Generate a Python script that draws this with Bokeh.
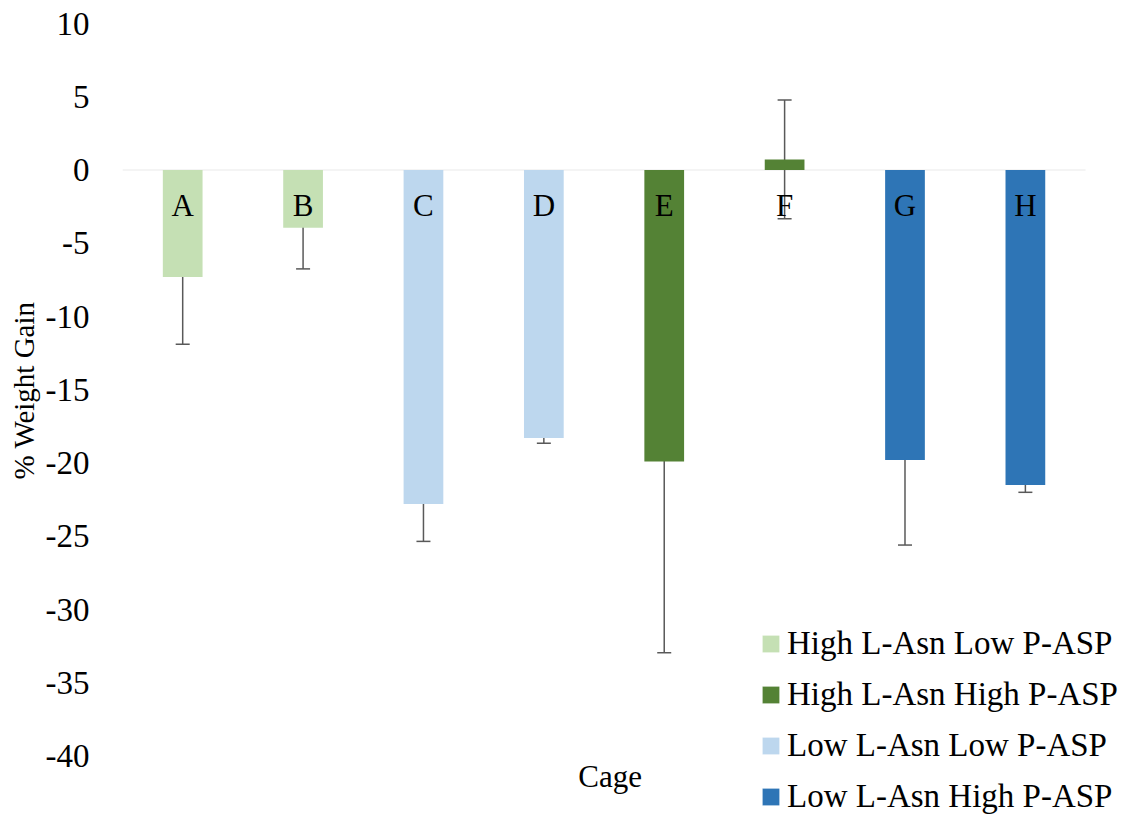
from bokeh.plotting import figure
from bokeh.models import (ColumnDataSource, Range1d, FixedTicker, Whisker, BoxAnnotation,
                          Legend, LegendItem, TeeHead, Label, PrintfTickFormatter, Title)
from bokeh.core.properties import value
from bokeh.embed import file_html
from bokeh.resources import INLINE

cages = ["A", "B", "C", "D", "E", "F", "G", "H"]
weight_gain = [-7.3, -3.95, -22.8, -18.3, -19.9, 0.72, -19.8, -21.5]
error = [4.6, 2.8, 2.55, 0.35, 13.05, 4.05, 5.8, 0.5]
treatment = ["High L-Asn Low P-ASP", "High L-Asn Low P-ASP",
             "Low L-Asn Low P-ASP", "Low L-Asn Low P-ASP",
             "High L-Asn High P-ASP", "High L-Asn High P-ASP",
             "Low L-Asn High P-ASP", "Low L-Asn High P-ASP"]
legend_order = ["High L-Asn Low P-ASP", "High L-Asn High P-ASP",
                "Low L-Asn Low P-ASP", "Low L-Asn High P-ASP"]
colors = {"High L-Asn Low P-ASP": "#c5e0b4",
          "High L-Asn High P-ASP": "#548235",
          "Low L-Asn Low P-ASP": "#bdd7ee",
          "Low L-Asn High P-ASP": "#2e75b6"}
y_ticks = [-40, -35, -30, -25, -20, -15, -10, -5, 0, 5, 10]

LABEL_Y = -2.4
Y_MIN, Y_MAX = -44.06, 10
X_EXTRA = 0.34
FONT = "Liberation Serif"

n = len(cages)
x_pos = [i + 0.5 for i in range(n)]

p = figure(x_range=Range1d(0, n + X_EXTRA), y_range=Range1d(Y_MIN, Y_MAX),
           frame_width=1004, frame_height=792,
           min_border_left=122, min_border_right=0,
           min_border_top=23, min_border_bottom=0,
           toolbar_location=None, output_backend="svg")
p.outline_line_color = None
p.grid.visible = False
p.background_fill_color = "white"
p.xaxis.visible = False

# category axis line at zero (spans the categories only)
p.add_layout(BoxAnnotation(left=0, right=n, top=0, bottom=0, fill_alpha=0,
                           line_color="#d9d9d9", line_width=2, level="underlay"))

items = []
for grp in legend_order:
    idx = [i for i, t in enumerate(treatment) if t == grp]
    src = ColumnDataSource(dict(x=[x_pos[i] for i in idx], top=[weight_gain[i] for i in idx],
                                cage=[cages[i] for i in idx]))
    r = p.vbar(x="x", top="top", bottom=0, width=0.33, source=src,
               fill_color=colors[grp], line_color=None)
    items.append(LegendItem(label=grp, renderers=[r]))

err_src = ColumnDataSource(dict(
    x=x_pos,
    upper=[v + e for v, e in zip(weight_gain, error)],
    lower=[v - e for v, e in zip(weight_gain, error)],
))
w = Whisker(source=err_src, base="x", upper="upper", lower="lower",
            line_color="#595959", line_width=1.5,
            upper_head=TeeHead(size=14, line_color="#595959", line_width=1.5),
            lower_head=TeeHead(size=14, line_color="#595959", line_width=1.5))
p.add_layout(w)

lab_src = ColumnDataSource(dict(x=x_pos, y=[LABEL_Y] * n, t=cages))
p.text(x="x", y="y", text="t", source=lab_src, text_font=value(FONT),
       text_font_size="31px", text_align="center", text_baseline="middle",
       text_color="#000000")

p.add_layout(Label(x=n / 2 + 0.05, y=-41.4, text="Cage", text_font=FONT,
                   text_font_size="31px", text_align="center",
                   text_baseline="middle", text_color="#000000"))

legend = Legend(items=items, location=(638, 0), orientation="vertical",
                label_text_font=FONT, label_text_font_size="33px",
                label_text_color="#000000",
                glyph_width=21, glyph_height=21, label_standoff=6,
                spacing=14, padding=0, margin=0,
                border_line_color=None, background_fill_alpha=0)
p.add_layout(legend, "center")

ya = p.yaxis[0]
ya.ticker = FixedTicker(ticks=y_ticks)
ya.formatter = PrintfTickFormatter(format="%d")
ya.axis_line_color = None
ya.major_tick_line_color = None
ya.minor_tick_line_color = None
ya.major_label_text_font = FONT
ya.major_label_text_font_size = "33px"
ya.major_label_text_color = "#000000"
ya.major_label_standoff = 27

p.add_layout(Title(text="% Weight  Gain", align="left", offset=336,
                   vertical_align="middle", standoff=4,
                   text_font=FONT, text_font_size="29px",
                   text_font_style="normal", text_color="#000000"), "left")

open("out.html", "w").write(file_html(p, INLINE))
